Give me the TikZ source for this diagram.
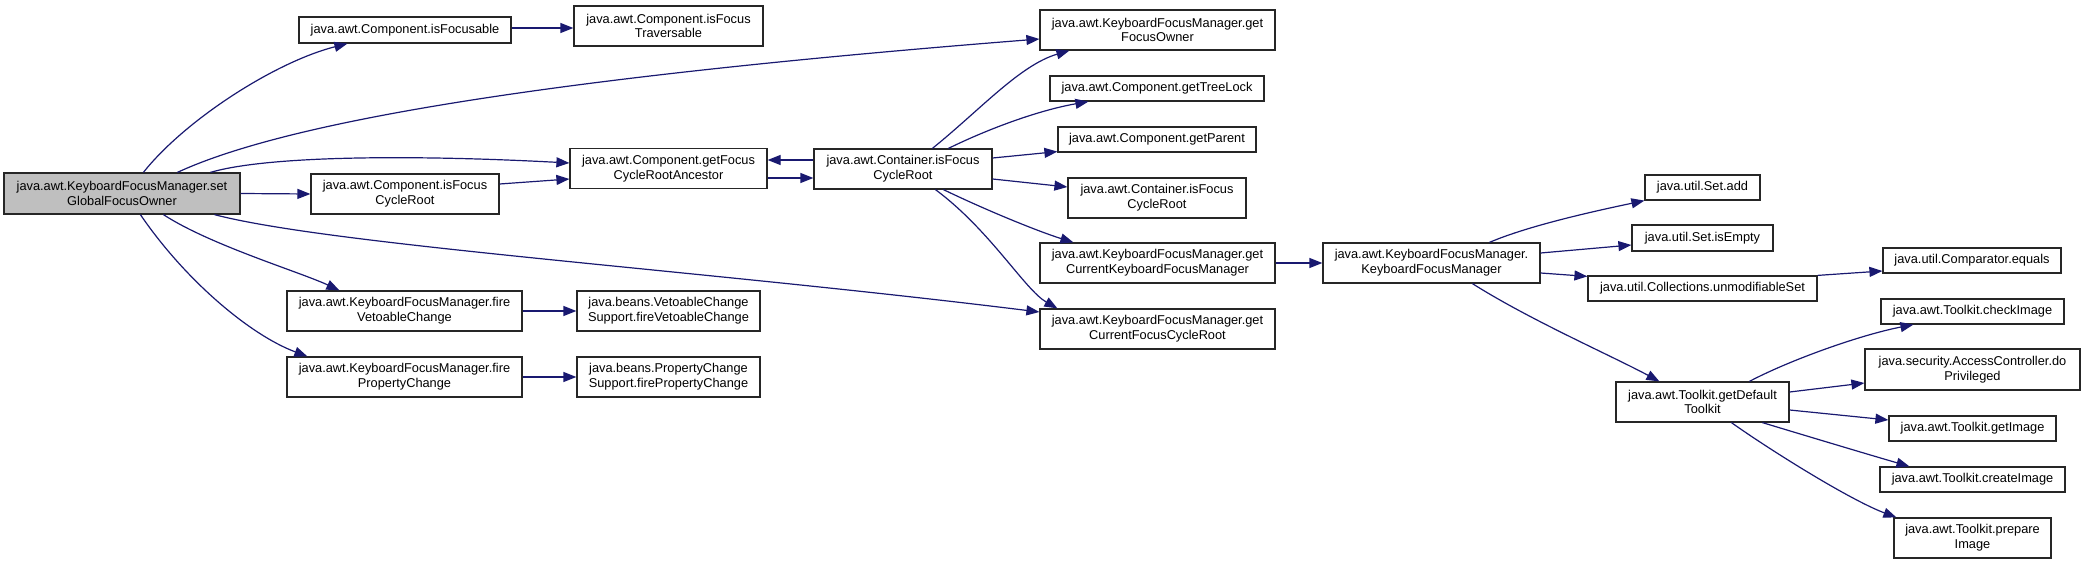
\documentclass[tikz,border=0pt]{standalone}
\usepackage{fontspec}
\setmainfont{Liberation Sans}
\usetikzlibrary{arrows.meta,calc}
\definecolor{edgec}{HTML}{191970}
\definecolor{mainfill}{HTML}{BFBFBF}
\definecolor{boxline}{HTML}{262626}
\begin{document}
\begin{tikzpicture}[x=1pt,y=-1pt,
  box/.style={draw=boxline,line width=1.2pt,fill=white,inner sep=0pt,align=center,font=\fontsize{12.8}{14.7}\selectfont},
  call/.style={draw=edgec,line width=1.2pt,-{Triangle[length=13pt,width=10pt]}}]
\useasboundingbox (0,0) rectangle (2085,564);
% nodes
\node[box,fill=mainfill,minimum width=236pt,minimum height=41pt] (main) at (122,193.5) {java.awt.KeyboardFocusManager.set\\GlobalFocusOwner};
\node[box,minimum width=212pt,minimum height=26pt] (isFoc) at (405,30) {java.awt.Component.isFocusable};
\node[box,minimum width=189pt,minimum height=40pt] (isTrav) at (668.5,26) {java.awt.Component.isFocus\\Traversable};
\node[box,minimum width=197pt,minimum height=40pt] (gfcra) at (668.5,168.5) {java.awt.Component.getFocus\\CycleRootAncestor};
\node[box,minimum width=188pt,minimum height=40pt] (cfcr) at (405,194) {java.awt.Component.isFocus\\CycleRoot};
\node[box,minimum width=235pt,minimum height=40pt] (fveto) at (404.5,311) {java.awt.KeyboardFocusManager.fire\\VetoableChange};
\node[box,minimum width=183pt,minimum height=40pt] (sveto) at (668.5,311) {java.beans.VetoableChange\\Support.fireVetoableChange};
\node[box,minimum width=235pt,minimum height=40pt] (fprop) at (404.5,377) {java.awt.KeyboardFocusManager.fire\\PropertyChange};
\node[box,minimum width=183pt,minimum height=40pt] (sprop) at (668.5,377) {java.beans.PropertyChange\\Support.firePropertyChange};
\node[box,minimum width=178pt,minimum height=40pt] (kfcr) at (903,169) {java.awt.Container.isFocus\\CycleRoot};
\node[box,minimum width=235pt,minimum height=40pt] (gfo) at (1157.5,30) {java.awt.KeyboardFocusManager.get\\FocusOwner};
\node[box,minimum width=214pt,minimum height=25pt] (gtl) at (1157,88.5) {java.awt.Component.getTreeLock};
\node[box,minimum width=198pt,minimum height=25pt] (gpar) at (1157,139.5) {java.awt.Component.getParent};
\node[box,minimum width=178pt,minimum height=40pt] (kfcr2) at (1157,198) {java.awt.Container.isFocus\\CycleRoot};
\node[box,minimum width=235pt,minimum height=40pt] (gckfm) at (1157.5,263) {java.awt.KeyboardFocusManager.get\\CurrentKeyboardFocusManager};
\node[box,minimum width=235pt,minimum height=40pt] (gcfcr) at (1157.5,329) {java.awt.KeyboardFocusManager.get\\CurrentFocusCycleRoot};
\node[box,minimum width=217pt,minimum height=40pt] (kfm) at (1431.5,263) {java.awt.KeyboardFocusManager.\\KeyboardFocusManager};
\node[box,minimum width=115pt,minimum height=25pt] (sadd) at (1702.5,187.5) {java.util.Set.add};
\node[box,minimum width=141pt,minimum height=26pt] (semp) at (1702.5,238) {java.util.Set.isEmpty};
\node[box,minimum width=229pt,minimum height=25pt] (unmod) at (1702.5,288.5) {java.util.Collections.unmodifiableSet};
\node[box,minimum width=178pt,minimum height=25pt] (ceq) at (1972,260.5) {java.util.Comparator.equals};
\node[box,minimum width=183pt,minimum height=25pt] (chk) at (1972.5,311.5) {java.awt.Toolkit.checkImage};
\node[box,minimum width=215pt,minimum height=41pt] (acc) at (1972.5,369.5) {java.security.AccessController.do\\Privileged};
\node[box,minimum width=173pt,minimum height=40pt] (tk) at (1702.5,402) {java.awt.Toolkit.getDefault\\Toolkit};
\node[box,minimum width=167pt,minimum height=25pt] (gimg) at (1972.5,428.5) {java.awt.Toolkit.getImage};
\node[box,minimum width=185pt,minimum height=25pt] (cimg) at (1972.5,479.5) {java.awt.Toolkit.createImage};
\node[box,minimum width=157pt,minimum height=40pt] (pimg) at (1972.5,538) {java.awt.Toolkit.prepare\\Image};
% edges from main
\draw[call] ($(main.north west)+(140,0)$) .. controls (185,120) and (275,62) .. ($(isFoc.south west)+(49,0)$);
\draw[call] ($(main.north west)+(174,0)$) .. controls (280,125) and (520,80) .. ($(gfo.west)+(0,9)$);
\draw[call] ($(main.north west)+(207,0)$) .. controls (270,155) and (420,155) .. ($(gfcra.west)+(0,-5.5)$);
\draw[call] (main.east) -- (cfcr.west);
\draw[call] ($(main.south west)+(211,0)$) .. controls (330,245) and (700,270) .. ($(gcfcr.west)+(0,-17)$);
\draw[call] ($(main.south west)+(160,0)$) .. controls (210,245) and (300,272) .. ($(fveto.north west)+(53,0)$);
\draw[call] ($(main.south west)+(137,0)$) .. controls (185,280) and (250,335) .. ($(fprop.north west)+(21,0)$);
% second level
\draw[call] ($(isFoc.east)+(0,-2)$) -- ($(isTrav.west)+(0,2)$);
\draw[call] ($(cfcr.east)+(0,-10)$) -- ($(gfcra.west)+(0,10.5)$);
\draw[call] (fveto.east) -- (sveto.west);
\draw[call] (fprop.east) -- (sprop.west);
\draw[call] ($(gfcra.east)+(0,9.5)$) -- ($(kfcr.west)+(0,9)$);
\draw[call] ($(kfcr.west)+(0,-9)$) -- ($(gfcra.east)+(0,-8.5)$);
% from container.isFocusCycleRoot
\draw[call] ($(kfcr.north west)+(119,0)$) .. controls (980,110) and (1020,65) .. ($(gfo.south west)+(30,0)$);
\draw[call] ($(kfcr.north west)+(135,0)$) .. controls (990,128) and (1040,110) .. ($(gtl.south west)+(39,0)$);
\draw[call] ($(kfcr.east)+(0,-11)$) -- ($(gpar.south west)+(0,-1)$);
\draw[call] ($(kfcr.east)+(0,10)$) -- ($(kfcr2.west)+(0,-11)$);
\draw[call] ($(kfcr.south west)+(130,0)$) .. controls (990,212) and (1040,232) .. ($(gckfm.north west)+(34,0)$);
\draw[call] ($(kfcr.south west)+(122,0)$) .. controls (990,230) and (1025,290) .. ($(gcfcr.north west)+(18,0)$);
% KFM chain
\draw[call] (gckfm.east) -- (kfm.west);
\draw[call] ($(kfm.north west)+(167,0)$) .. controls (1530,225) and (1600,210) .. (sadd.south west);
\draw[call] ($(kfm.east)+(0,-10)$) -- ($(semp.west)+(0,7)$);
\draw[call] ($(kfm.east)+(0,10)$) -- ($(unmod.north west)+(0,1)$);
\draw[call] (unmod.north east) -- ($(ceq.west)+(0,10.5)$);
\draw[call] ($(kfm.south west)+(150,0)$) .. controls (1530,320) and (1610,355) .. ($(tk.north west)+(44,0)$);
% toolkit
\draw[call] ($(tk.north west)+(134,0)$) .. controls (1790,360) and (1860,335) .. ($(chk.south west)+(33,0)$);
\draw[call] ($(tk.east)+(0,-10)$) -- ($(acc.west)+(0,13.5)$);
\draw[call] ($(tk.east)+(0,8)$) -- ($(gimg.west)+(0,-8.5)$);
\draw[call] ($(tk.south west)+(147,0)$) .. controls (1810,437) and (1870,455) .. ($(cimg.north west)+(30,0)$);
\draw[call] ($(tk.south west)+(116,0)$) .. controls (1770,450) and (1850,500) .. ($(pimg.north west)+(3,0)$);
\end{tikzpicture}
\end{document}
